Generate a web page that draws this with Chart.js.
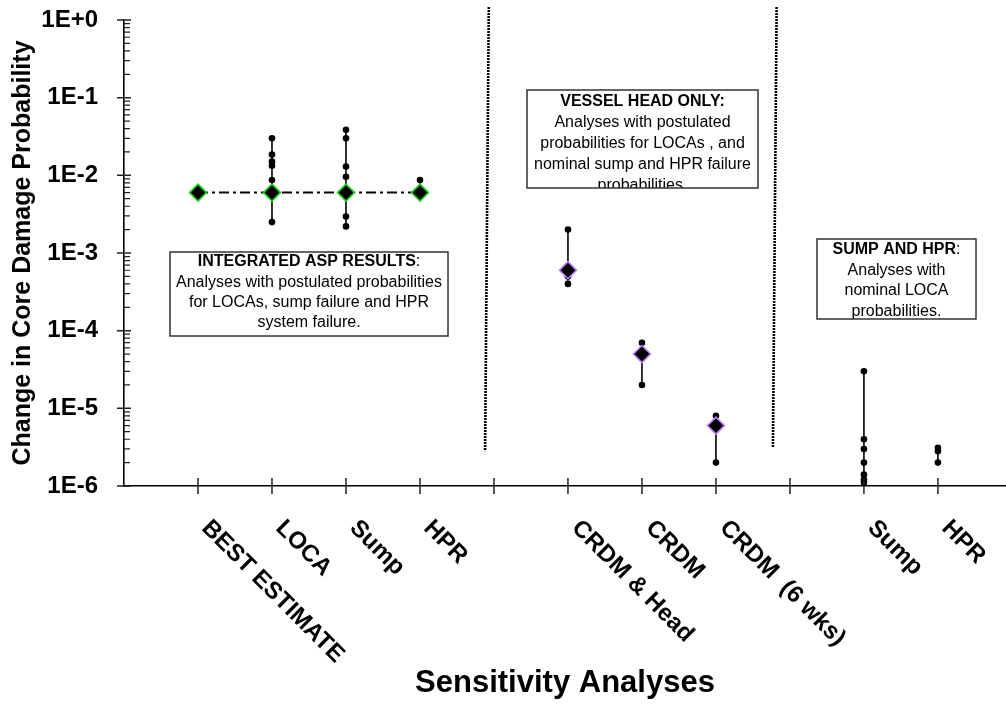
<!DOCTYPE html>
<html><head><meta charset="utf-8">
<script src="https://cdn.jsdelivr.net/npm/chart.js@4/dist/chart.umd.min.js"></script>
<style>html,body{margin:0;padding:0;background:#fff;}canvas{display:block;}</style>
</head><body>
<canvas id="c" width="1006" height="709"></canvas>
<script>
// ---------- data ----------
const categories    = ['BEST ESTIMATE', 'LOCA', 'Sump', 'HPR', 'CRDM & Head', 'CRDM', 'CRDM  (6 wks)', 'Sump', 'HPR'];
const categorySlots = [1, 2, 3, 4, 6, 7, 8, 10, 11];
const tickSlots     = [1, 2, 3, 4, 5, 6, 7, 8, 9, 10, 11];
const yTickLabels   = ['1E+0', '1E-1', '1E-2', '1E-3', '1E-4', '1E-5', '1E-6'];

// point estimates (diamonds)
const estimateSlots  = [1, 2, 3, 4, 6, 7, 8];
const estimateValues = [6.0e-3, 6.0e-3, 6.0e-3, 6.0e-3, 6.0e-4, 5.0e-5, 6.0e-6];

// sensitivity results (dots) per category
const ptsBestEstimate = [6.0e-3];
const ptsLOCA     = [3.0e-2, 1.85e-2, 1.5e-2, 1.33e-2, 8.7e-3, 6.0e-3, 2.5e-3];
const ptsSumpASP  = [3.85e-2, 3.0e-2, 1.3e-2, 9.6e-3, 6.5e-3, 5.5e-3, 2.95e-3, 2.2e-3];
const ptsHprASP   = [8.7e-3, 6.0e-3];
const ptsCrdmHead = [2.0e-3, 5.0e-4, 4.0e-4];
const ptsCrdm     = [7.0e-5, 2.0e-5];
const ptsCrdm6wks = [8.0e-6, 2.0e-6];
const ptsSump     = [3.0e-5, 4.0e-6, 3.0e-6, 2.0e-6, 1.4e-6, 1.2e-6, 1.1e-6];
const ptsHpr      = [3.1e-6, 2.8e-6, 2.0e-6];

// separators between analysis groups [xTop, yTop, xBottom, yBottom]
const separatorA = [4.93, 1.47, 4.88, 2.8e-6];
const separatorB = [8.82, 1.47, 8.77, 3.1e-6];

// ---------- build datasets ----------
const FONT = "'Liberation Sans', Arial, Helvetica, sans-serif";
const groups = [ptsBestEstimate, ptsLOCA, ptsSumpASP, ptsHprASP, ptsCrdmHead, ptsCrdm, ptsCrdm6wks, ptsSump, ptsHpr];

const datasets = [];
[separatorA, separatorB].forEach(s => datasets.push({
  type: 'line',
  data: [{x: s[0], y: s[1]}, {x: s[2], y: s[3]}],
  borderColor: '#000', borderWidth: 2.6, borderDash: [2, 1],
  pointRadius: 0, clip: false, order: 6
}));
datasets.push({
  type: 'line',
  data: estimateSlots.slice(0, 4).map((s, i) => ({x: s, y: estimateValues[i]})),
  borderColor: '#000', borderWidth: 2, borderDash: [10, 4, 3, 4],
  pointRadius: 0, order: 5
});
groups.forEach((g, i) => datasets.push({
  type: 'line',
  data: g.slice().sort((a, b) => b - a).map(v => ({x: categorySlots[i], y: v})),
  borderColor: '#000', borderWidth: 1.6,
  pointRadius: 3.3, pointBackgroundColor: '#000', pointBorderWidth: 0,
  order: 3
}));
datasets.push({
  type: 'scatter',
  data: estimateSlots.map((s, i) => ({x: s, y: estimateValues[i]})),
  pointStyle: 'rectRot', pointRadius: 8.5,
  pointBackgroundColor: '#000',
  pointBorderColor: estimateSlots.map(s => s <= 4 ? '#1fd01f' : '#b77cff'),
  pointBorderWidth: 1.6,
  order: 1
});

// ---------- annotations ----------
const notes = [
  {rect: [170, 252, 278, 84], lines: [
    {y: 262, parts: [['INTEGRATED ASP RESULTS', true], [':', false]]},
    {y: 283, parts: [['Analyses with postulated probabilities', false]]},
    {y: 303, parts: [['for LOCAs, sump failure and HPR', false]]},
    {y: 323, parts: [['system failure.', false]]}]},
  {rect: [527, 90, 231, 98], lines: [
    {y: 102, parts: [['VESSEL HEAD ONLY:', true]]},
    {y: 123, parts: [['Analyses with postulated', false]]},
    {y: 144, parts: [['probabilities for LOCAs , and', false]]},
    {y: 165, parts: [['nominal sump and HPR failure', false]]},
    {y: 186, parts: [['probabilities.', false]]}]},
  {rect: [817, 239, 159, 80], lines: [
    {y: 250, parts: [['SUMP AND HPR', true], [':', false]]},
    {y: 271, parts: [['Analyses with', false]]},
    {y: 291, parts: [['nominal LOCA', false]]},
    {y: 312, parts: [['probabilities.', false]]}]}
];

const overlay = {
  id: 'overlay',
  afterDraw(chart) {
    const ctx = chart.ctx, xs = chart.scales.x, ys = chart.scales.y;
    const axisY = ys.bottom, axisX = xs.left;
    ctx.save();
    // tick marks
    ctx.strokeStyle = '#222';
    ctx.lineWidth = 1.5;
    ctx.beginPath();
    tickSlots.forEach(s => {
      const px = xs.getPixelForValue(s);
      ctx.moveTo(px, axisY - 8); ctx.lineTo(px, axisY + 8);
    });
    for (let e = -6; e <= 0; e++) {
      const py = ys.getPixelForValue(Math.pow(10, e));
      ctx.moveTo(axisX - 7, py); ctx.lineTo(axisX + 7, py);
    }
    ctx.stroke();
    ctx.lineWidth = 1.2;
    ctx.beginPath();
    for (let e = -6; e < 0; e++) {
      for (let m = 2; m <= 9; m++) {
        const py = ys.getPixelForValue(m * Math.pow(10, e));
        ctx.moveTo(axisX, py); ctx.lineTo(axisX + 6, py);
      }
    }
    ctx.stroke();

    // rotated category labels
    ctx.fillStyle = '#000';
    ctx.font = 'bold 24px ' + FONT;
    ctx.textAlign = 'left';
    ctx.textBaseline = 'alphabetic';
    categories.forEach((lab, i) => {
      const px = xs.getPixelForValue(categorySlots[i]);
      ctx.save();
      ctx.translate(px + 2.8, axisY + 43);
      ctx.rotate(Math.PI / 4);
      ctx.fillText(lab, 0, 0);
      ctx.restore();
    });

    // text boxes
    notes.forEach(n => {
      const [x, y, w, h] = n.rect;
      ctx.fillStyle = '#fff';
      ctx.fillRect(x, y, w, h);
      ctx.save();
      ctx.beginPath(); ctx.rect(x, y, w, h); ctx.clip();
      ctx.fillStyle = '#000';
      ctx.textBaseline = 'middle';
      ctx.textAlign = 'left';
      const cx = x + w / 2;
      n.lines.forEach(l => {
        let total = 0;
        l.parts.forEach(p => { ctx.font = (p[1] ? 'bold ' : '') + '16px ' + FONT; total += ctx.measureText(p[0]).width; });
        let sx = cx - total / 2;
        l.parts.forEach(p => {
          ctx.font = (p[1] ? 'bold ' : '') + '16px ' + FONT;
          ctx.fillText(p[0], sx, l.y);
          sx += ctx.measureText(p[0]).width;
        });
      });
      ctx.restore();
      ctx.strokeStyle = '#333';
      ctx.lineWidth = 1.5;
      ctx.strokeRect(x, y, w, h);
    });
    ctx.restore();
  }
};

new Chart(document.getElementById('c'), {
  data: {datasets},
  options: {
    responsive: false,
    animation: false,
    devicePixelRatio: 1,
    layout: {padding: {top: 20, left: 0, right: 0, bottom: 0}, autoPadding: false},
    plugins: {legend: {display: false}, tooltip: {enabled: false}},
    elements: {line: {tension: 0}},
    scales: {
      x: {
        type: 'linear', min: 0, max: 11.92,
        grid: {display: false},
        border: {display: true, color: '#000', width: 1.6},
        ticks: {display: false},
        title: {display: true, text: 'Sensitivity Analyses', color: '#000',
                font: {family: FONT, size: 31, weight: 'bold', lineHeight: 1.2},
                padding: {top: 0, bottom: 7}},
        afterFit: s => { s.height = 223; s.paddingLeft = 0; s.paddingRight = 0; }
      },
      y: {
        type: 'logarithmic', min: 1e-6, max: 1,
        grid: {display: false},
        border: {display: true, color: '#000', width: 1.6},
        ticks: {
          autoSkip: false, padding: 18, color: '#000',
          font: {family: FONT, size: 24, weight: 'bold'},
          callback: v => {
            const e = Math.log10(v);
            if (Math.abs(e - Math.round(e)) > 1e-6) return '';
            return yTickLabels[-Math.round(e)];
          }
        },
        title: {display: true, text: 'Change in Core Damage Probability', color: '#000',
                font: {family: FONT, size: 25, weight: 'bold', lineHeight: 1.2},
                padding: {top: 8, bottom: 0}},
        afterFit: s => { s.width = 124; s.paddingTop = 0; s.paddingBottom = 0; }
      }
    }
  },
  plugins: [overlay]
});
</script>
</body></html>
